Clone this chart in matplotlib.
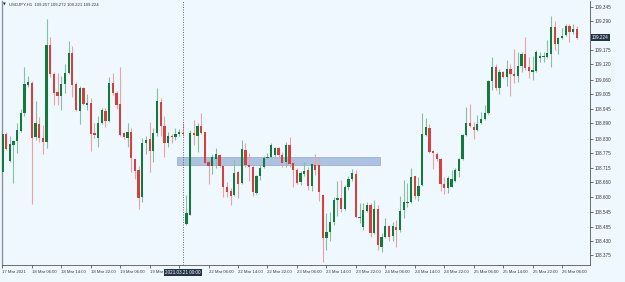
import matplotlib.pyplot as plt
from matplotlib.patches import Rectangle

plt.rcParams['font.family'] = ['Liberation Sans', 'DejaVu Sans']

symbol = "USDJPY,H1"

# hourly bars, 17 Mar 22:00 .. 26 Mar 10:00 (weekend gap after bar 49)
opens = [108.699, 108.848, 108.742, 108.805, 108.821, 108.860, 108.930, 109.040, 109.047, 108.836,
         108.887, 108.832, 108.817, 109.196, 109.083, 109.012, 108.997, 109.044, 109.087, 109.165,
         109.044, 108.938, 109.028, 108.961, 108.969, 108.852, 108.832, 108.891, 108.938, 108.899,
         109.047, 109.008, 108.965, 108.852, 108.832, 108.856, 108.750, 108.707, 108.602, 108.813,
         108.829, 108.782, 108.852, 108.973, 108.879, 108.813, 108.840, 108.836, 108.848, 108.852,
         108.496, 108.531, 108.852, 108.840, 108.879, 108.856, 108.739, 108.723, 108.750, 108.766,
         108.723, 108.641, 108.625, 108.610, 108.699, 108.656, 108.786, 108.727, 108.719, 108.617,
         108.684, 108.719, 108.754, 108.758, 108.766, 108.793, 108.766, 108.739, 108.805, 108.735,
         108.707, 108.660, 108.692, 108.707, 108.645, 108.727, 108.727, 108.610, 108.441, 108.465,
         108.504, 108.590, 108.598, 108.555, 108.641, 108.672, 108.692, 108.520, 108.484, 108.547,
         108.570, 108.461, 108.555, 108.406, 108.445, 108.488, 108.449, 108.484, 108.473, 108.551,
         108.578, 108.582, 108.684, 108.606, 108.649, 108.844, 108.872, 108.782, 108.770, 108.750,
         108.653, 108.637, 108.641, 108.664, 108.703, 108.750, 108.844, 108.891, 108.876, 108.864,
         108.891, 108.907, 108.930, 109.055, 109.110, 109.028, 109.090, 109.071, 109.102, 109.083,
         109.075, 109.114, 109.161, 109.110, 109.090, 109.094, 109.145, 109.149, 109.149, 109.161,
         109.266, 109.200, 109.223, 109.235, 109.270, 109.247, 109.257]
highs = [108.856, 108.856, 108.840, 108.825, 108.891, 108.946, 109.110, 109.075, 109.055, 108.977,
         108.915, 108.883, 109.298, 109.227, 109.090, 109.087, 109.075, 109.122, 109.212, 109.192,
         109.051, 109.036, 109.032, 109.004, 108.989, 108.891, 108.918, 108.950, 108.950, 109.071,
         109.087, 109.016, 109.110, 108.856, 108.891, 108.872, 108.750, 108.723, 108.832, 108.840,
         108.895, 108.872, 109.028, 108.989, 108.918, 108.856, 108.848, 108.872, 108.868, 108.891,
         108.610, 108.864, 108.903, 108.891, 108.930, 108.856, 108.746, 108.770, 108.793, 108.770,
         108.727, 108.660, 108.637, 108.746, 108.703, 108.825, 108.813, 108.774, 108.727, 108.688,
         108.727, 108.762, 108.774, 108.813, 108.797, 108.797, 108.778, 108.817, 108.836, 108.746,
         108.715, 108.703, 108.739, 108.719, 108.735, 108.770, 108.758, 108.613, 108.539, 108.543,
         108.602, 108.664, 108.668, 108.649, 108.684, 108.711, 108.707, 108.578, 108.578, 108.582,
         108.578, 108.590, 108.570, 108.461, 108.520, 108.492, 108.504, 108.512, 108.606, 108.668,
         108.656, 108.715, 108.684, 108.680, 108.930, 108.911, 108.887, 108.786, 108.778, 108.754,
         108.680, 108.684, 108.707, 108.715, 108.754, 108.848, 108.954, 108.965, 108.895, 108.922,
         108.934, 108.961, 109.059, 109.149, 109.122, 109.102, 109.094, 109.137, 109.122, 109.180,
         109.169, 109.169, 109.227, 109.149, 109.153, 109.177, 109.169, 109.169, 109.216, 109.309,
         109.290, 109.227, 109.263, 109.278, 109.278, 109.278, 109.272]
lows = [108.692, 108.786, 108.739, 108.656, 108.774, 108.856, 108.918, 109.032, 108.574, 108.825,
        108.817, 108.770, 108.793, 109.071, 108.961, 108.961, 108.942, 109.008, 109.083, 108.993,
        108.938, 108.887, 108.961, 108.942, 108.782, 108.832, 108.797, 108.887, 108.876, 108.895,
        109.001, 108.946, 108.840, 108.829, 108.797, 108.699, 108.672, 108.555, 108.582, 108.770,
        108.699, 108.739, 108.840, 108.840, 108.758, 108.797, 108.813, 108.825, 108.840, 108.840,
        108.492, 108.531, 108.805, 108.778, 108.848, 108.731, 108.653, 108.692, 108.715, 108.719,
        108.602, 108.602, 108.570, 108.606, 108.598, 108.653, 108.719, 108.664, 108.606, 108.613,
        108.668, 108.715, 108.750, 108.754, 108.758, 108.754, 108.719, 108.719, 108.719, 108.641,
        108.653, 108.649, 108.684, 108.629, 108.625, 108.688, 108.586, 108.348, 108.394, 108.430,
        108.492, 108.527, 108.543, 108.551, 108.629, 108.664, 108.520, 108.500, 108.473, 108.543,
        108.445, 108.457, 108.394, 108.387, 108.441, 108.430, 108.430, 108.406, 108.465, 108.520,
        108.563, 108.578, 108.594, 108.586, 108.645, 108.840, 108.774, 108.711, 108.742, 108.625,
        108.613, 108.617, 108.641, 108.660, 108.680, 108.746, 108.840, 108.876, 108.829, 108.860,
        108.887, 108.903, 108.926, 109.020, 109.020, 109.004, 109.067, 109.036, 108.997, 109.047,
        109.051, 109.090, 109.098, 109.067, 109.059, 109.090, 109.130, 109.130, 109.145, 109.110,
        109.177, 109.161, 109.220, 109.231, 109.208, 109.239, 109.221]
closes = [108.848, 108.789, 108.809, 108.821, 108.864, 108.930, 109.044, 109.051, 108.832, 108.891,
          108.832, 108.817, 109.196, 109.083, 109.008, 108.997, 109.044, 109.087, 109.165, 109.040,
          108.942, 109.028, 108.965, 108.969, 108.848, 108.844, 108.891, 108.942, 108.899, 109.047,
          109.008, 108.961, 108.844, 108.836, 108.856, 108.754, 108.703, 108.598, 108.813, 108.825,
          108.782, 108.852, 108.977, 108.879, 108.813, 108.840, 108.836, 108.848, 108.856, 108.848,
          108.539, 108.852, 108.844, 108.879, 108.852, 108.735, 108.723, 108.758, 108.770, 108.723,
          108.641, 108.621, 108.606, 108.696, 108.653, 108.789, 108.727, 108.719, 108.621, 108.684,
          108.715, 108.754, 108.758, 108.805, 108.793, 108.766, 108.735, 108.805, 108.731, 108.707,
          108.656, 108.696, 108.703, 108.645, 108.731, 108.707, 108.621, 108.441, 108.465, 108.504,
          108.590, 108.598, 108.555, 108.641, 108.672, 108.696, 108.524, 108.524, 108.551, 108.570,
          108.461, 108.555, 108.414, 108.445, 108.488, 108.445, 108.488, 108.473, 108.547, 108.582,
          108.582, 108.680, 108.606, 108.645, 108.848, 108.876, 108.778, 108.774, 108.750, 108.653,
          108.637, 108.676, 108.672, 108.707, 108.750, 108.844, 108.891, 108.879, 108.864, 108.887,
          108.907, 108.930, 109.055, 109.110, 109.028, 109.090, 109.071, 109.102, 109.083, 109.075,
          109.114, 109.161, 109.106, 109.094, 109.098, 109.169, 109.153, 109.153, 109.165, 109.266,
          109.200, 109.223, 109.231, 109.270, 109.247, 109.259, 109.224]

price_ticks = [109.345, 109.290, 109.175, 109.120, 109.060, 109.005, 108.945, 108.890, 108.830,
               108.775, 108.715, 108.660, 108.600, 108.545, 108.485, 108.430, 108.375]

# the 19 Mar 14:00 / 22:00 labels are mostly hidden under the time box in the reference
time_tick_bars = [0, 8, 16, 24, 32, 40, 48, 56, 64, 72, 80, 88, 96, 104, 112, 120, 128, 136, 144, 152]
time_tick_labels = ["17 Mar 2021", "18 Mar 06:00", "18 Mar 14:00", "18 Mar 22:00", "19 Mar 06:00",
                    "19 Mar", "", "22 Mar 06:00", "22 Mar 14:00", "22 Mar 22:00",
                    "23 Mar 06:00", "23 Mar 14:00", "23 Mar 22:00", "24 Mar 06:00", "24 Mar 14:00",
                    "24 Mar 22:00", "25 Mar 06:00", "25 Mar 14:00", "25 Mar 22:00", "26 Mar 06:00"]

vline_bar = 49
vline_label = "2021.03.21 00:00"

# zone rectangle (bar index range, price range)
zone_bars = (47.3, 102.6)
zone_prices = (108.727, 108.759)

bg = '#f0f8ff'
up_body, up_wick = '#137a3c', '#86c09c'
dn_body, dn_wick = '#d2403f', '#e8a3a3'

fig = plt.figure(figsize=(6.25, 2.82), dpi=100, facecolor=bg)
ax = fig.add_axes([2 / 625, 17 / 282, 588 / 625, 264 / 282])
ax.set_facecolor(bg)

x = list(range(len(opens)))
body_col = [up_body if c >= o else dn_body for o, c in zip(opens, closes)]
wick_col = [up_wick if c >= o else dn_wick for o, c in zip(opens, closes)]
bottoms = [min(o, c) for o, c in zip(opens, closes)]
heights = [max(abs(c - o), 0.003) for o, c in zip(opens, closes)]

ax.add_patch(Rectangle((zone_bars[0], zone_prices[0]), zone_bars[1] - zone_bars[0],
                       zone_prices[1] - zone_prices[0], facecolor='#adc1e1',
                       edgecolor='#9cb2d8', lw=0.6, zorder=1))
ax.vlines(x, lows, highs, colors=wick_col, linewidth=0.8, zorder=2)
ax.bar(x, heights, bottom=bottoms, width=0.62, color=body_col, linewidth=0, zorder=3)

ax.axvline(vline_bar, color='#555555', ls=(0, (1.2, 1.8)), lw=0.6, zorder=4)

ax.set_xlim(-0.1, 159.6)
ax.set_ylim(108.336, 109.368)

ax.yaxis.tick_right()
ax.set_yticks(price_ticks)
ax.set_yticklabels([f"{p:.3f}" for p in price_ticks])
ax.tick_params(axis='y', length=2, width=0.5, pad=1.5, labelsize=3.3, colors='#3a3a3a')

ax.set_xticks(time_tick_bars)
ax.set_xticklabels(time_tick_labels)
for lbl in ax.get_xticklabels():
    lbl.set_ha('left')
ax.tick_params(axis='x', length=2, width=0.5, pad=1.8, labelsize=3.1, colors='#3a3a3a')

ax.spines['top'].set_visible(False)
ax.spines['left'].set_color('#8796a3')
ax.spines['left'].set_linewidth(1.0)
for s in ('right', 'bottom'):
    ax.spines[s].set_color('#555555')
    ax.spines[s].set_linewidth(0.6)

box = dict(boxstyle='square,pad=0.25', fc='#243447', ec='none')
ax.annotate(f"{closes[-1]:.3f}", xy=(1, closes[-1]), xycoords=('axes fraction', 'data'),
            xytext=(1.2, 0), textcoords='offset points', ha='left', va='center',
            fontsize=3.3, color='white', bbox=box, annotation_clip=False, zorder=10)
ax.annotate(vline_label, xy=(vline_bar, 0), xycoords=('data', 'axes fraction'),
            xytext=(0, -5.2), textcoords='offset points', ha='center', va='center',
            fontsize=3.3, color='white', bbox=box, annotation_clip=False, zorder=10)

fig.text(3 / 625, 1 - 5 / 282, '\u25bc', fontsize=2.6, va='center', color='#333333',
         family='DejaVu Sans')
fig.text(9 / 625, 1 - 5 / 282,
         f"{symbol}  {opens[-1]:.3f} {highs[-1]:.3f} {lows[-1]:.3f} {closes[-1]:.3f}",
         fontsize=3.1, va='center', color='#333333')

fig.savefig('out.png', dpi=100, facecolor=bg)
